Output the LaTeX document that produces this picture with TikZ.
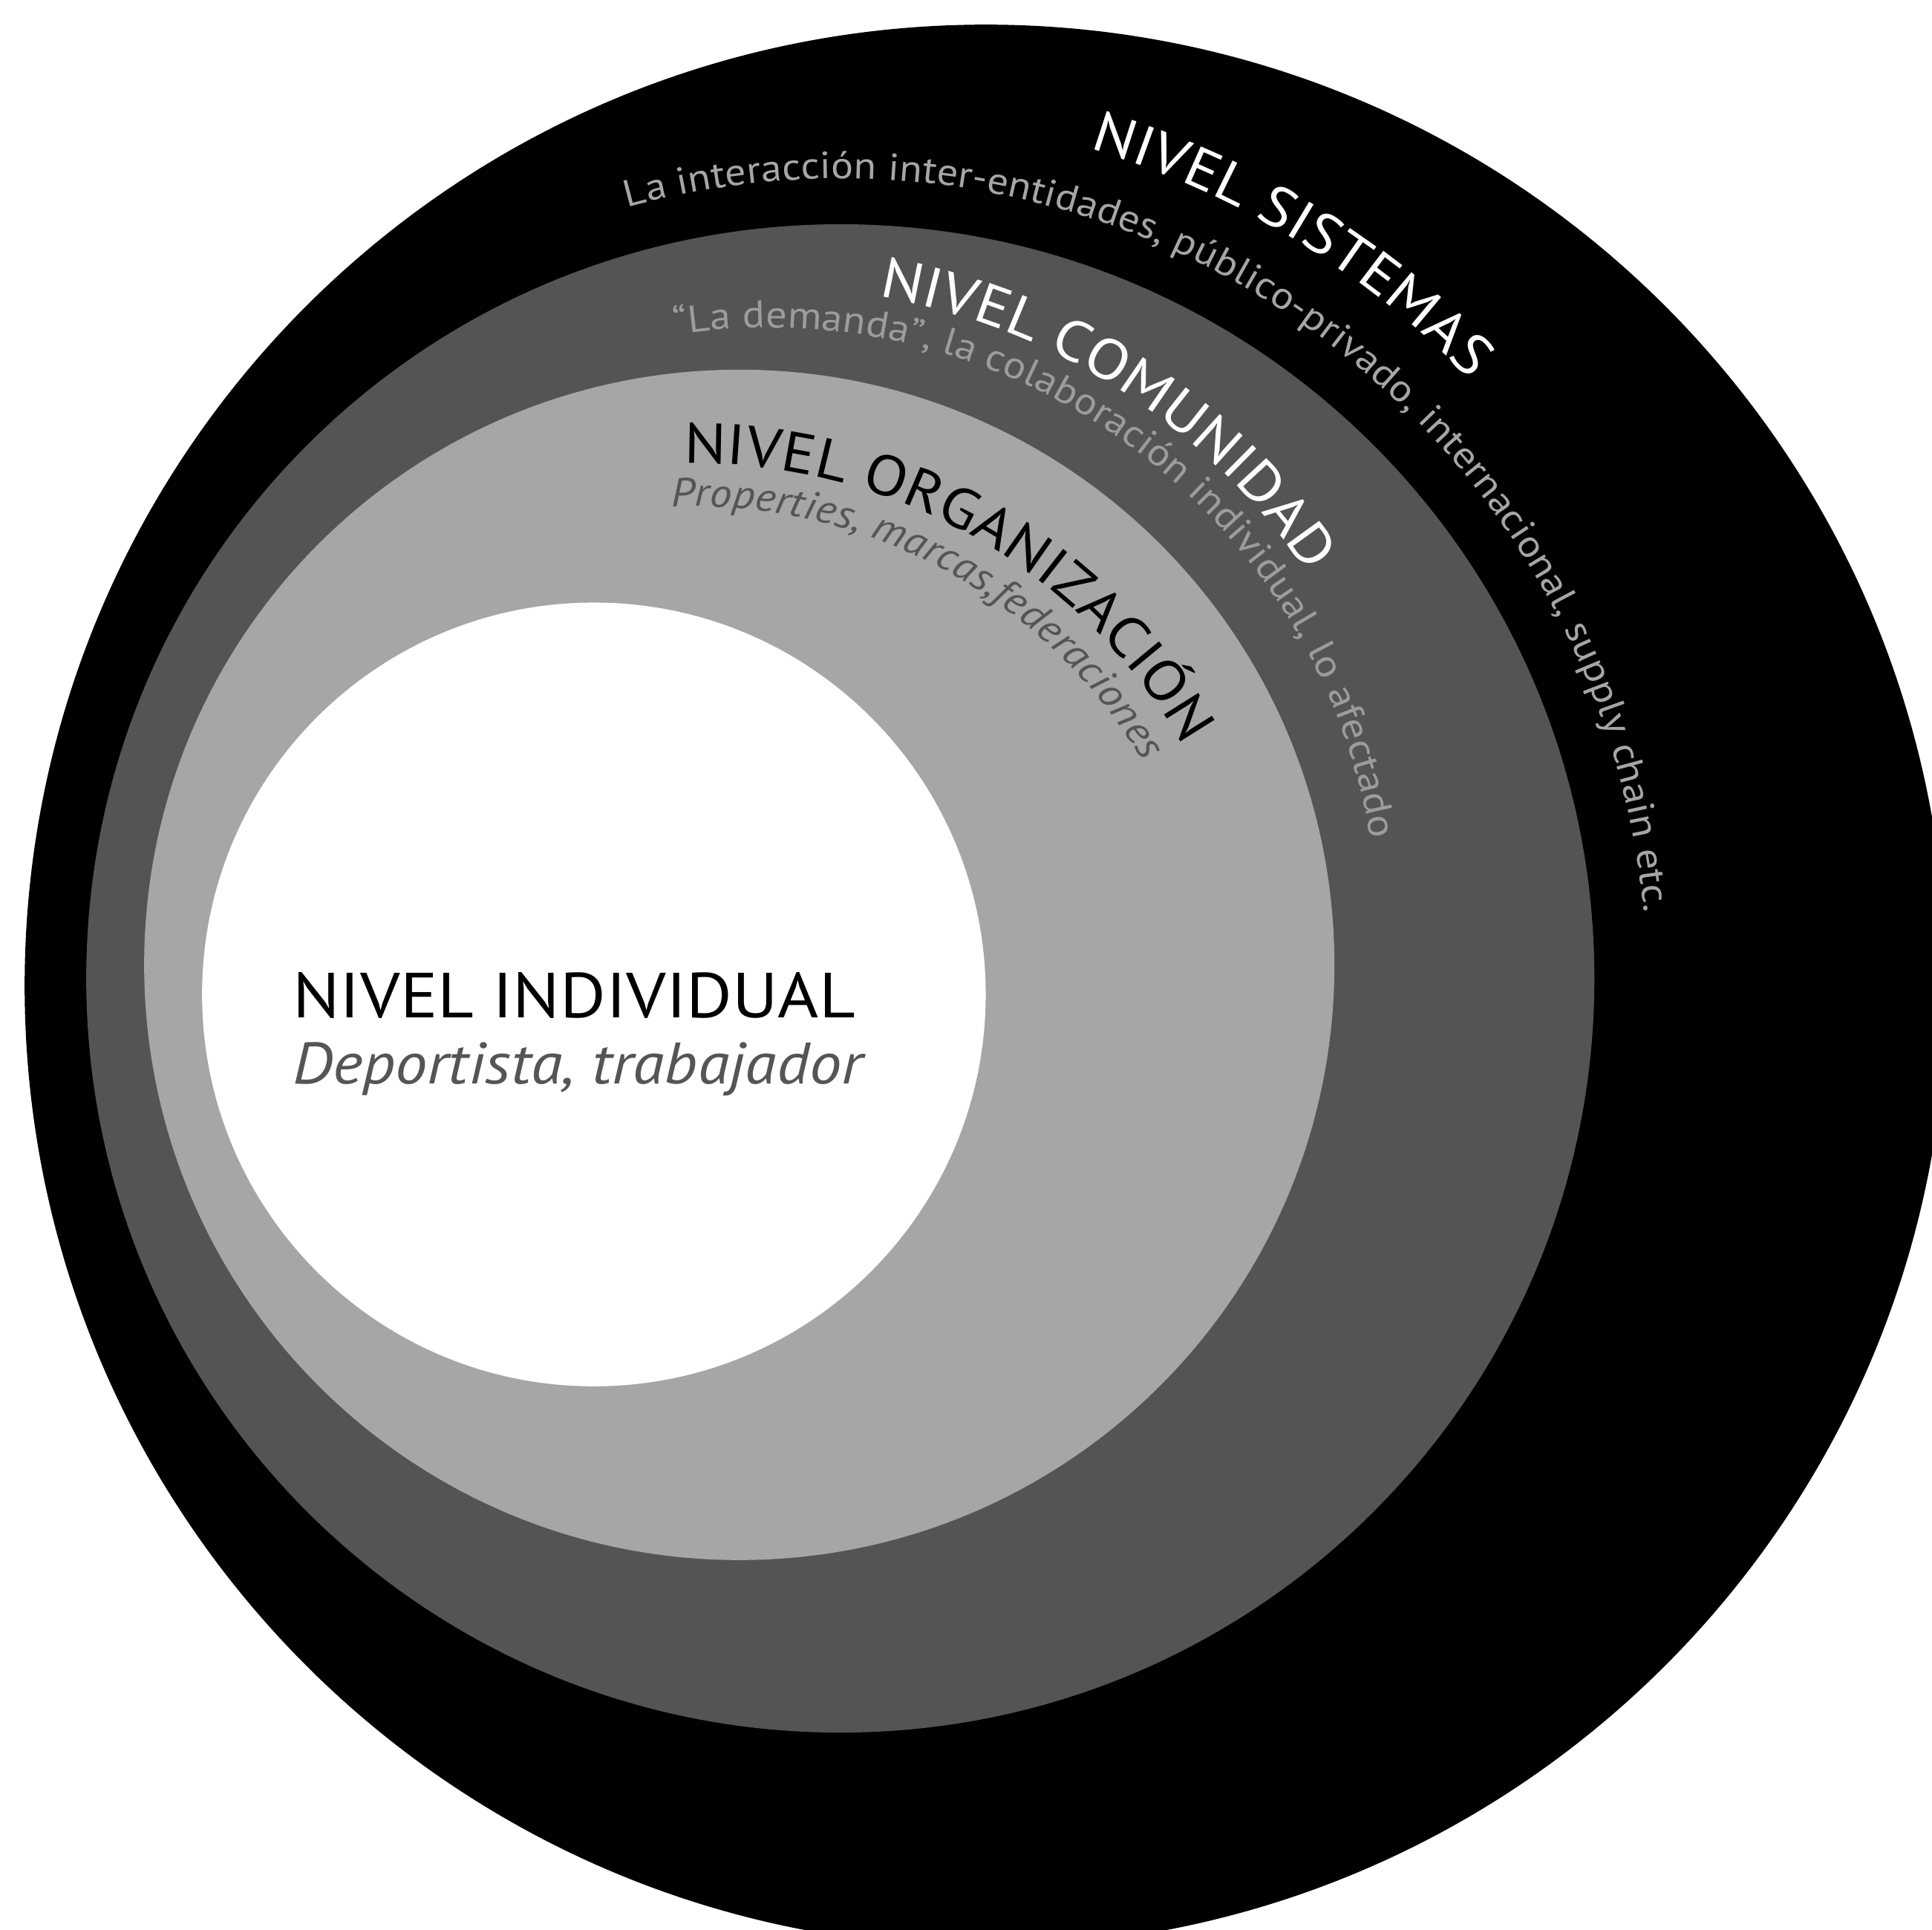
\documentclass[tikz,border=0pt]{standalone}
\usepackage{fontspec}
\setmainfont[FakeStretch=1.1]{PT Sans}
\usetikzlibrary{positioning,decorations.text}

\definecolor{ringdark}{HTML}{545454}
\definecolor{ringlight}{HTML}{A6A6A6}
\definecolor{subouter}{HTML}{A6A6A6}
\definecolor{submid}{HTML}{9C9C9C}
\definecolor{subinner}{HTML}{555555}

\newcommand\arctitle{\fontsize{13.1}{15}\selectfont}
\newcommand\arcsubA{\fontsize{8.75}{10}\selectfont}
\newcommand\arcsubB{\fontsize{8.8}{10}\selectfont}
\newcommand\arcsubC{\fontsize{9.3}{11}\selectfont}

\begin{document}
\begin{tikzpicture}[x=0.01cm,y=0.01cm,
	title/.style={font=\fontsize{14.7}{17}\selectfont, inner sep=0pt, anchor=west},
	subtitle/.style={font=\fontsize{13.5}{16}\selectfont\itshape, text=subinner, inner sep=0pt},
	arctext/.style={decorate, decoration={text along path, text align=left, text={#1}}}
	]

\clip (0,0) rectangle (1568,1566);

% the four levels
\fill[black]      (800,766) circle[radius=780];
\fill[ringdark]   (682,772) circle[radius=612];
\fill[ringlight]  (600,783) circle[radius=483];
\fill[white]      (482,759) circle[radius=318];

% centres of the text arcs
\coordinate (csis) at (682,766);
\coordinate (ccom) at (624,805);
\coordinate (corg) at (564,732);

\path[arctext={|\arctitle\color{white}|NIVEL SISTEMAS}]
  ([shift={(73.4:709)}]csis) arc[start angle=73.4, end angle=20, radius=709];
\path[arctext={|\arcsubA\color{subouter}|La interacción inter-entidades, público-privado, internacional, supply chain etc.}]
  ([shift={(105.3:655)}]csis) arc[start angle=105.3, end angle=-30, radius=655];

\path[arctext={|\arctitle\color{white}|NIVEL COMUNIDAD}]
  ([shift={(80.3:528)}]ccom) arc[start angle=80.3, end angle=10, radius=528];
\path[arctext={|\arcsubB\color{submid}|“La demanda”, la colaboración individual, lo afectado}]
  ([shift={(98.8:495)}]ccom) arc[start angle=98.8, end angle=-20, radius=495];

\path[arctext={|\arctitle\color{black}|NIVEL ORGANIZACIÓN}]
  ([shift={(91.1:458)}]corg) arc[start angle=91.1, end angle=5, radius=458];
\path[arctext={|\arcsubC\itshape\color{subinner}|Properties, marcas,federaciones}]
  ([shift={(92.6:423)}]corg) arc[start angle=92.6, end angle=0, radius=423];

\node[title] (lblind) at (237,758) {NIVEL INDIVIDUAL};
\node[subtitle] (lbldep) [below right=18 and 0 of lblind.south west] {Deportista, trabajador};
\end{tikzpicture}
\end{document}
